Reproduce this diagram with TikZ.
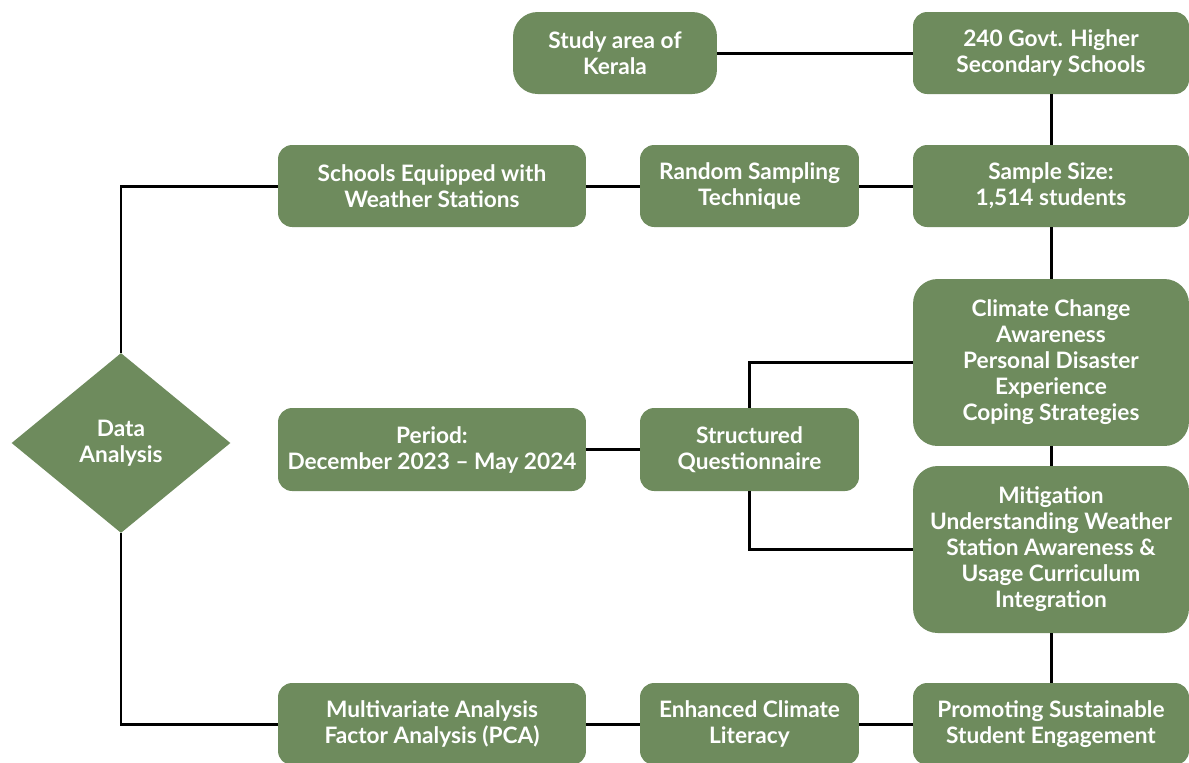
\documentclass[tikz,border=0pt]{standalone}
\usepackage{fontspec}
\setmainfont{Lato}
\usetikzlibrary{positioning,shapes.geometric}
\definecolor{leaf}{HTML}{6E8B5D}
\tikzset{
box/.style={fill=leaf,rounded corners=8pt,text=white,align=center,inner sep=2pt,
font=\fontsize{12.9}{14.8}\selectfont\bfseries},
tallbox/.style={box,rounded corners=14pt},
decide/.style={diamond,fill=leaf,text=white,align=center,inner sep=0pt,aspect=1.2,
font=\fontsize{12.9}{14.8}\selectfont\bfseries},
link/.style={draw=black,line width=1.7pt}
}
\begin{document}
\begin{tikzpicture}[x=0.02cm,y=-0.02cm]
\useasboundingbox (0,0) rectangle (1189,762);
% top row
\node[tallbox,minimum width=4.08cm,minimum height=1.64cm] (area) at (615,53) {Study area of\\Kerala};
\node[box,minimum width=5.52cm,minimum height=1.64cm] (govt) at (1051,53) {240 Govt. Higher\\Secondary Schools};
% sampling row
\node[box,minimum width=6.16cm,minimum height=1.64cm] (equip) at (432,186) {Schools Equipped with\\Weather Stations};
\node[box,minimum width=4.38cm,minimum height=1.64cm] (random) at (749.5,186) {Random Sampling\\Technique};
\node[box,minimum width=5.52cm,minimum height=1.64cm] (sample) at (1051,186) {Sample Size:\\1,514 students};
% questionnaire
\node[tallbox,minimum width=5.52cm,minimum height=3.34cm] (climate) at (1051,362.5) {Climate Change\\Awareness\\Personal Disaster\\Experience\\Coping Strategies};
\node[box,minimum width=6.16cm,minimum height=1.66cm] (period) at (432,449.5) {Period:\\December 2023 -- May 2024};
\node[box,minimum width=4.38cm,minimum height=1.66cm] (quest) at (749.5,449.5) {Structured\\Questionnaire};
\node[tallbox,minimum width=5.52cm,minimum height=3.34cm] (mitig) at (1051,549.5) {Mitigation\\Understanding Weather\\Station Awareness \&\\Usage Curriculum\\Integration};
% bottom row
\node[box,minimum width=6.16cm,minimum height=1.64cm] (multi) at (432,724) {Multivariate Analysis\\Factor Analysis (PCA)};
\node[box,minimum width=4.38cm,minimum height=1.64cm] (literacy) at (749.5,724) {Enhanced Climate\\Literacy};
\node[box,minimum width=5.52cm,minimum height=1.64cm] (promote) at (1051,724) {Promoting Sustainable\\Student Engagement};
\node[decide,minimum width=4.38cm,minimum height=3.6cm] (data) at (121,443) {Data\\Analysis};
% connectors
\draw[link] (area) -- (govt);
\draw[link] (govt) -- (sample);
\draw[link] (sample) -- (random);
\draw[link] (random) -- (equip);
\draw[link] (equip.west) -| (data.north);
\draw[link] (sample) -- (climate);
\draw[link] (climate) -- (mitig);
\draw[link] (mitig) -- (promote);
\draw[link] (promote) -- (literacy);
\draw[link] (literacy) -- (multi);
\draw[link] (multi.west) -| (data.south);
\draw[link] (period) -- (quest);
\draw[link] (quest.north) |- (climate.west);
\draw[link] (quest.south) |- (mitig.west);
\end{tikzpicture}
\end{document}
